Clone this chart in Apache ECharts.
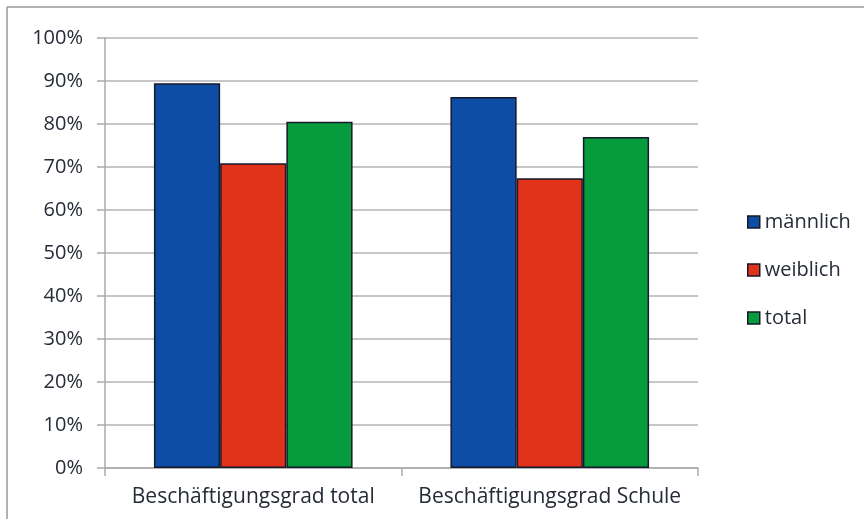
<!DOCTYPE html>
<html>
<head>
<meta charset="utf-8">
<script src="https://cdn.jsdelivr.net/npm/echarts@6/dist/echarts.min.js"></script>
<style>
html, body { margin: 0; padding: 0; background: #fff; }
#main { width: 864px; height: 519px; }
</style>
</head>
<body>
<div id="main"></div>
<script>
var categories = ['Beschäftigungsgrad total', 'Beschäftigungsgrad Schule'];
var maennlich = [89.5, 86.3];
var weiblich = [70.9, 67.4];
var total = [80.5, 77.0];
var seriesNames = ['männlich', 'weiblich', 'total'];
var colors = ['#0d4da5', '#e1331a', '#069b3c'];

var myChart = echarts.init(document.getElementById('main'));
var fontFam = '"Open Sans", sans-serif';
var txtColor = '#262b36';

function bar(name, data, color) {
	return {
		name: name,
		type: 'bar',
		data: data,
		barCategoryGap: '33%',
		barGap: '0%',
		itemStyle: { color: color, borderColor: '#151a2a', borderWidth: 1.5 }
	};
}

var option = {
	animation: false,
	grid: { left: 105, right: 166, top: 38, bottom: 51 },
	legend: {
		orient: 'vertical',
		left: 742,
		top: 207,
		itemWidth: 12,
		itemHeight: 12,
		itemGap: 28,
		icon: 'rect',
		textStyle: { fontFamily: fontFam, fontSize: 20, color: txtColor },
		itemStyle: { borderColor: '#151a2a', borderWidth: 1.5 },
		data: seriesNames
	},
	xAxis: {
		type: 'category',
		data: categories,
		axisLine: { lineStyle: { color: '#aaa', width: 1.5 } },
		axisTick: { show: true, length: 8, lineStyle: { color: '#aaa', width: 1.5 } },
		axisLabel: { fontFamily: fontFam, fontSize: 21, color: txtColor, margin: 19, interval: 0 }
	},
	yAxis: {
		type: 'value',
		min: 0,
		max: 100,
		interval: 10,
		axisLine: { show: true, lineStyle: { color: '#aaa', width: 1.5 } },
		axisTick: { show: true, length: 8, lineStyle: { color: '#aaa', width: 1.5 } },
		splitLine: { lineStyle: { color: '#b5b5b5', width: 1.5 } },
		axisLabel: { fontFamily: fontFam, fontSize: 20, color: txtColor, margin: 22, formatter: '{value}%' }
	},
	graphic: [
		{ type: 'line', shape: { x1: 7, y1: 7, x2: 864, y2: 7 }, style: { stroke: '#999', lineWidth: 1.5 } },
		{ type: 'line', shape: { x1: 7, y1: 7, x2: 7, y2: 519 }, style: { stroke: '#999', lineWidth: 1.5 } }
	],
	series: [
		bar(seriesNames[0], maennlich, colors[0]),
		bar(seriesNames[1], weiblich, colors[1]),
		bar(seriesNames[2], total, colors[2])
	]
};
myChart.setOption(option);
</script>
</body>
</html>
